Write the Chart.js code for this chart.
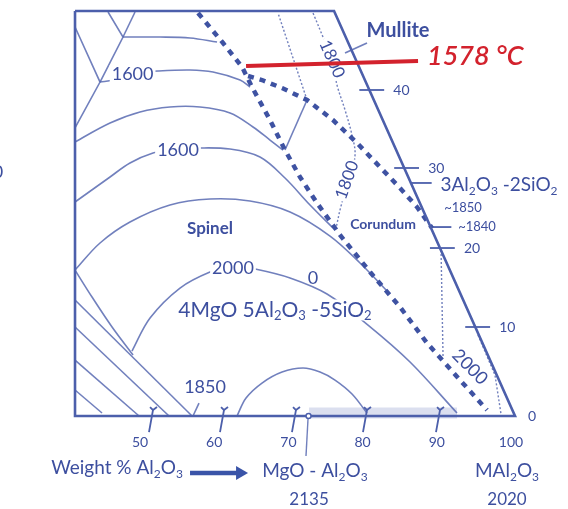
<!DOCTYPE html>
<html>
<head>
<meta charset="utf-8">
<script src="https://cdn.jsdelivr.net/npm/chart.js@4.4.0/dist/chart.umd.min.js"></script>
<style>
  html, body { margin: 0; padding: 0; background: #fff; }
  #wrap { width: 568px; height: 509px; position: relative; }
</style>
</head>
<body>
<div id="wrap"><canvas id="chart"></canvas></div>
<script>
// x = weight % Al2O3 (bottom edge), y = % read along the right-hand edge
const frame = [[41.24, 50], [76.15, 50], [100.54, 0], [41.24, 0], [41.24, 50]];

// bottom axis
const bottomTicks = [50, 60, 70, 80, 90, 100];
const baseTickMarks = [51.75, 61.32, 71.02, 80.59, 90.43];
// right edge
const edgeTickLabels = ['10', '20', '30', '40'];
const edgeTickHeights = [10.99, 20.74, 30.62, 40.25];
const compositionMarks = [28.77, 23.33];   // 3Al2O3-2SiO2, ~1840

// boundary curves (thick dashed)
const boundaryLeft = [[57.82, 49.75], [61.19, 46.05], [63.75, 43.09], [65.09, 40.62], [67.52, 36.54], [69.54, 32.84],
  [71.56, 29.51], [73.85, 26.30], [76.95, 22.35], [81.00, 17.78], [85.04, 13.46], [88.68, 9.01], [93.13, 4.44], [96.77, 0.74]];
const boundaryRight = [[64.56, 41.98], [66.44, 41.48], [69.14, 40.49], [72.51, 39.01], [76.01, 36.54], [79.25, 33.70],
  [82.34, 30.74], [85.04, 28.15], [87.33, 25.80], [89.35, 23.21]];

// isotherms and other thin lines
const topLeftA = [[45.69, 49.88], [47.71, 46.79], [44.61, 41.23]];
const topLeftB = [[49.33, 49.88], [47.71, 46.79]];
const topLeftC = [[41.24, 48.03], [44.61, 41.23], [41.24, 35.56]];
const topCurve = [[47.71, 46.79], [52.70, 46.79], [56.74, 46.67], [60.38, 46.17]];
const iso1600Upper = [[44.61, 41.23], [46.36, 41.48], [49.0, 42.3], [52.43, 42.59], [56.74, 42.72], [59.84, 42.47], [63.48, 41.48], [64.82, 40.62]];
const curveMid = [[41.24, 33.83], [45.96, 36.17], [50.0, 37.53], [54.04, 38.15], [58.09, 38.15], [62.13, 37.41], [65.23, 35.68], [67.52, 34.07], [69.27, 32.84]];
const iso1600Lower = [[41.24, 26.42], [45.96, 29.51], [48.65, 31.24], [51.75, 32.47], [54.72, 32.96], [57.68, 33.09], [62.13, 32.96],
  [66.17, 31.98], [69.54, 29.38], [72.91, 26.05], [76.01, 23.21]];
const spinelArc = [[41.24, 18.02], [44.61, 21.36], [48.65, 23.95], [54.04, 26.05], [59.43, 26.79], [64.82, 26.54], [70.22, 25.19],
  [75.61, 22.22], [79.65, 18.89], [83.42, 15.31]];
const iso2000 = [[48.92, 8.02], [51.35, 12.10], [55.39, 15.80], [59.43, 17.78], [62.53, 18.52], [65.50, 18.15], [70.22, 17.04],
  [75.20, 15.06], [80.73, 11.23], [86.39, 6.67], [92.72, 0.37]];
const lowArc = [[63.07, 0], [64.29, 2.22], [66.44, 4.07], [69.14, 5.43], [71.97, 5.93], [74.26, 5.43], [76.28, 4.44], [78.57, 2.72], [80.59, 0.37]];
const leftLine1 = [[41.24, 18.02], [43.53, 14.69], [46.23, 10.99], [49.06, 7.53]];
const leftLine2 = [[41.24, 14.32], [57.01, 0]];
const leftLine3 = [[41.24, 10.99], [53.91, 0]];
const leftLine4 = [[41.24, 6.91], [49.87, 0]];
const leftLine5 = [[41.24, 3.21], [44.88, 0.37]];
const tieLine = [[69.54, 32.84], [72.51, 39.01]];
const mulliteTick = [[77.63, 44.82], [80.59, 46.05]];
const tick1850 = [[57.14, 0], [57.95, 1.6]];

// dotted lines
const dottedTop = [[72.51, 39.01], [68.60, 49.75]];
const iso1800 = [[73.32, 49.75], [74.66, 46.79], [75.88, 44.07], [76.55, 40.86], [77.63, 37.78], [78.57, 34.69], [78.98, 32.22],
  [78.17, 29.14], [77.09, 25.93], [76.42, 23.21]];
const dottedLow = [[90.57, 20.49], [90.84, 7.28]];
const dottedEdge = [[95.55, 10.0], [97.84, 5.06], [98.65, 0.25]];

// 1578 °C mark, spinel band, arrow
const line1578 = [[64.29, 43.21], [87.47, 43.83]];
const spinelBand = [[72.78, 0.37], [92.72, 0.37]];
const spinelPoint = [[72.71, 0]];
const spinelDrop = [[72.64, -0.37], [72.37, -4.94]];
const arrowLine = [[56.74, -7.04], [63.48, -7.04]];

const FAMILY = 'Lato, "Noto Sans", sans-serif';
const TEXT = '#3d4f9f';
const THIN = 'rgba(88,106,178,0.85)';
const FRAME = '#4c5fab';
const DASH = '#3e52a2';
const RED = '#d3222d';

function pts(arr) {
    return arr.map(p => ({ x: p[0], y: p[1] }));
}

function line(arr, extra) {
    return Object.assign({
        data: pts(arr),
        showLine: true,
        pointRadius: 0,
        borderColor: THIN,
        borderWidth: 1.6,
        tension: 0,
        fill: false,
        spanGaps: false,
        order: 5
    }, extra || {});
}

// position on the right edge for a given height
function edgeAt(h) {
    const a = frame[1], b = frame[2];
    return a[0] + (b[0] - a[0]) * (a[1] - h) / (a[1] - b[1]);
}

const curve = { tension: 0.35 };
const dotted = { borderDash: [2, 2], borderWidth: 1.4 };

const datasets = [
    line(line1578, { borderColor: RED, borderWidth: 4, order: 0, label: 'red' }),
    line(frame, { borderColor: FRAME, borderWidth: 2.6, order: 2 }),
    line(boundaryLeft, { borderColor: DASH, borderWidth: 4.5, borderDash: [6, 6], order: 3 }),
    line(boundaryRight, { borderColor: DASH, borderWidth: 4.5, borderDash: [6, 6], order: 3 }),
    line(topLeftA), line(topLeftB), line(topLeftC),
    line(topCurve, curve), line(iso1600Upper, curve), line(curveMid, curve),
    line(iso1600Lower, curve), line(spinelArc, curve), line(iso2000, curve), line(lowArc, curve),
    line(leftLine1, curve), line(leftLine2), line(leftLine3), line(leftLine4), line(leftLine5),
    line(tieLine), line(mulliteTick, { borderWidth: 1.8 }), line(tick1850),
    line(dottedTop, dotted), line(iso1800, Object.assign({}, dotted, curve)),
    line(dottedLow, dotted), line(dottedEdge, dotted),
    line(spinelBand, { borderColor: 'rgba(175,184,220,0.45)', borderWidth: 11, order: 9 }),
    line(spinelDrop, { borderWidth: 1.4 }),
    {
        data: pts(spinelPoint), showLine: false, pointRadius: 2.5, pointStyle: 'circle',
        pointBackgroundColor: '#fff', pointBorderColor: FRAME, pointBorderWidth: 1.4, order: 1
    },
    line(arrowLine, {
        borderColor: '#3a54a8', borderWidth: 4.5, order: 1,
        pointRadius: [0, 8], pointStyle: 'triangle', pointRotation: 90,
        pointBackgroundColor: '#3a54a8', pointBorderWidth: 0
    })
];

// "y" shaped marks on the bottom edge
baseTickMarks.forEach(t => {
    datasets.push(line([[t - 0.40, 1.11], [t, 0.74], [t - 0.54, -1.98]], { borderWidth: 1.8, borderColor: FRAME, order: 4 }));
    datasets.push(line([[t + 0.54, 1.11], [t, 0.74]], { borderWidth: 1.8, borderColor: FRAME, order: 4 }));
});
// ticks across the right edge
edgeTickHeights.forEach(h => {
    const e = edgeAt(h);
    datasets.push(line([[e - 1.35, h], [e + 2.0, h]], { borderWidth: 1.8, borderColor: FRAME, order: 4 }));
});
compositionMarks.forEach(h => {
    const e = edgeAt(h);
    datasets.push(line([[e, h], [e + 2.8, h]], { borderWidth: 1.8, borderColor: FRAME, order: 4 }));
});

const notes = [
    { text: '1600', at: [49.0, 42.22], size: 18, bg: true },
    { text: '1600', at: [55.12, 32.84], size: 18, bg: true },
    { text: '2000', at: [62.53, 18.27], size: 18, bg: true },
    { text: '0', at: [73.32, 17.04], size: 18 },
    { text: '1850', at: [58.76, 3.58], size: 18 },
    { text: 'Spinel', at: [59.43, 23.09], size: 17, weight: 'bold' },
    { text: 'Corundum', at: [82.75, 23.7], size: 14, weight: 'bold' },
    { text: 'Mullite', at: [84.77, 47.65], size: 20, weight: 'bold' },
    { text: '4MgO 5Al_2O_3 -5SiO_2', at: [68.19, 13.09], size: 21, bg: true },
    { text: '3Al_2O_3 -2SiO_2', at: [98.38, 28.52], size: 19 },
    { text: '~1850', at: [93.53, 25.68], size: 13 },
    { text: '~1840', at: [95.42, 23.33], size: 13 },
    { text: '1800', at: [75.88, 44.07], size: 17, rotate: 66, bg: true },
    { text: '1800', at: [77.90, 29.14], size: 17, rotate: -70, bg: true },
    { text: '2000', at: [94.47, 6.05], size: 18, rotate: 45 },
    { text: 'Weight % Al_2O_3', at: [46.90, -6.42], size: 19 },
    { text: 'MgO - Al_2O_3', at: [73.58, -6.79], size: 19 },
    { text: '2135', at: [72.78, -10.37], size: 17 },
    { text: 'MAl_2O_3', at: [99.46, -6.79], size: 19 },
    { text: '2020', at: [99.46, -10.37], size: 17 },
    { text: '0', at: [30.86, 30.12], size: 18 },
    { text: '1578 °C', at: [88.68, 44.44], size: 27, weight: '600', style: 'italic', color: RED, align: 'left' }
];

function splitSub(text) {
    const parts = [];
    let buf = '';
    for (let i = 0; i < text.length; i++) {
        if (text[i] === '_') {
            if (buf) parts.push([buf, false]);
            buf = '';
            parts.push([text[i + 1], true]);
            i++;
        } else {
            buf += text[i];
        }
    }
    if (buf) parts.push([buf, false]);
    return parts;
}

function drawRich(ctx, n, x, y) {
    const size = n.size;
    const fontFor = s => (n.style || 'normal') + ' ' + (n.weight || 'normal') + ' ' + s + 'px ' + FAMILY;
    const parts = splitSub(n.text);
    const sub = Math.round(size * 0.62);
    let total = 0;
    const widths = parts.map(p => {
        ctx.font = fontFor(p[1] ? sub : size);
        const w = ctx.measureText(p[0]).width;
        total += w;
        return w;
    });
    ctx.save();
    ctx.translate(x, y);
    if (n.rotate) ctx.rotate(n.rotate * Math.PI / 180);
    let cx = n.align === 'left' ? 0 : -total / 2;
    if (n.bg) {
        ctx.fillStyle = '#fff';
        ctx.fillRect(cx - 2, -size * 0.5, total + 4, size * 1.0);
    }
    ctx.fillStyle = n.color || TEXT;
    ctx.textBaseline = 'middle';
    ctx.textAlign = 'left';
    parts.forEach((p, i) => {
        ctx.font = fontFor(p[1] ? sub : size);
        ctx.fillText(p[0], cx, p[1] ? size * 0.3 : 0);
        cx += widths[i];
    });
    ctx.restore();
}

const labelPlugin = {
    id: 'phaseLabels',
    beforeDatasetDraw(chart, args) {
        if (args.index !== 0) return;
        const ctx = chart.ctx;
        const xs = chart.scales.x, ys = chart.scales.y;
        notes.forEach(n => drawRich(ctx, n, xs.getPixelForValue(n.at[0]), ys.getPixelForValue(n.at[1])));
        bottomTicks.forEach(t => {
            drawRich(ctx, { text: String(t), size: 14 }, xs.getPixelForValue(t), ys.getPixelForValue(-3.21));
        });
        edgeTickHeights.forEach((h, i) => {
            drawRich(ctx, { text: edgeTickLabels[i], size: 14, align: 'left' },
                xs.getPixelForValue(edgeAt(h)) + 24, ys.getPixelForValue(h));
        });
        drawRich(ctx, { text: '0', size: 14, align: 'left' }, xs.getPixelForValue(edgeAt(0)) + 13, ys.getPixelForValue(0));
    }
};

new Chart(document.getElementById('chart'), {
    type: 'scatter',
    data: { datasets: datasets },
    options: {
        responsive: true,
        maintainAspectRatio: false,
        animation: false,
        layout: { padding: 0, autoPadding: false },
        plugins: { legend: { display: false }, tooltip: { enabled: false } },
        scales: {
            x: { type: 'linear', min: 31.13, max: 107.68, display: false },
            y: { type: 'linear', min: -11.48, max: 51.36, display: false }
        }
    },
    plugins: [labelPlugin]
});
</script>
</body>
</html>
